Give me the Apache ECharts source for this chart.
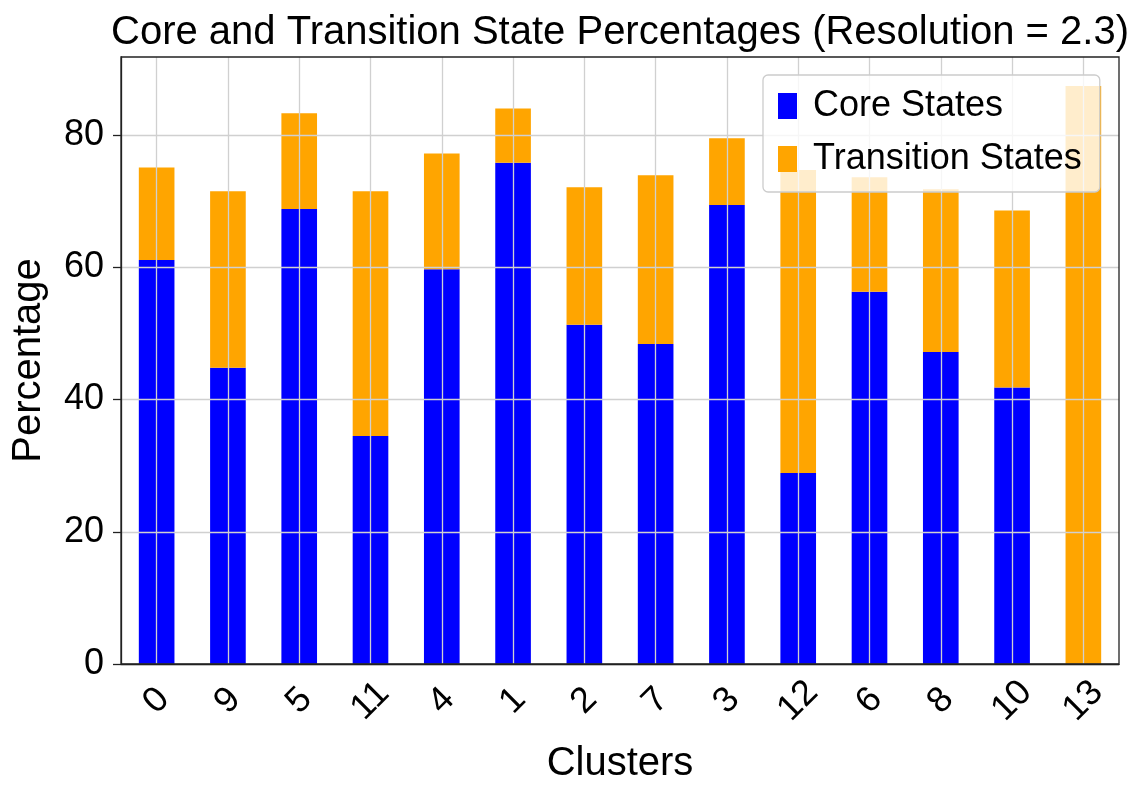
<!DOCTYPE html>
<html>
<head>
<meta charset="utf-8">
<script src="https://cdn.jsdelivr.net/npm/echarts@6/dist/echarts.min.js"></script>
<style>
html,body{margin:0;padding:0;background:#fff;}
#chart{width:1145px;height:798px;}
</style>
</head>
<body>
<div id="chart"></div>
<script>
const categories = ['0','9','5','11','4','1','2','7','3','12','6','8','10','13'];
const coreStates = [61.1, 44.8, 68.8, 34.5, 59.7, 75.8, 51.3, 48.4, 69.4, 28.9, 56.3, 47.2, 41.8, 0];
const transitionStates = [14.0, 26.7, 14.5, 37.0, 17.5, 8.2, 20.8, 25.5, 10.1, 45.8, 17.3, 24.6, 26.8, 87.4];
const yTicks = [0, 20, 40, 60, 80];

const FONT = "'Liberation Sans', Arial, sans-serif";
const chart = echarts.init(document.getElementById('chart'), null, {renderer: 'canvas'});
chart.setOption({
  animation: false,
  backgroundColor: '#ffffff',
  title: {
    text: 'Core and Transition State Percentages (Resolution = 2.3)',
    left: 615,
    textAlign: 'center',
    top: 8,
    textStyle: {fontFamily: FONT, fontSize: 40, fontWeight: 'normal', color: '#000'}
  },
  grid: {
    left: 121, right: 26, top: 57, bottom: 134,
    show: true, z: 4,
    backgroundColor: 'transparent',
    borderColor: '#222', borderWidth: 1.3
  },
  legend: {
    orient: 'vertical',
    left: 763, top: 75,
    z: 10,
    backgroundColor: 'rgba(255,255,255,0.8)',
    borderColor: '#cccccc', borderWidth: 1.3, borderRadius: 5,
    padding: [13, 18, 15, 15],
    itemWidth: 19, itemHeight: 26, itemGap: 17,
    icon: 'rect',
    textStyle: {fontFamily: FONT, fontSize: 36, color: '#000', lineHeight: 36, padding: [0,0,0,11]},
    data: ['Core States', 'Transition States']
  },
  xAxis: {
    type: 'category',
    data: categories,
    z: 3,
    name: 'Clusters',
    nameLocation: 'middle',
    nameGap: 80,
    nameTextStyle: {fontFamily: FONT, fontSize: 40, color: '#000'},
    axisLine: {lineStyle: {color: '#222', width: 1.3}},
    axisTick: {alignWithLabel: true, length: 8, lineStyle: {color: '#222', width: 1.3}},
    axisLabel: {
      rotate: 45, align: 'center', verticalAlign: 'middle', margin: 37,
      fontFamily: FONT, fontSize: 36, color: '#000', interval: 0
    },
    splitLine: {show: true, alignWithLabel: true, lineStyle: {color: '#d0d0d0', width: 1.3}}
  },
  yAxis: {
    type: 'value',
    min: 0, max: 91.8, interval: 20,
    z: 3,
    name: 'Percentage',
    nameLocation: 'middle',
    nameGap: 72,
    nameTextStyle: {fontFamily: FONT, fontSize: 40, color: '#000'},
    axisLine: {show: true, lineStyle: {color: '#222', width: 1.3}},
    axisTick: {show: true, length: 8, lineStyle: {color: '#222', width: 1.3}, customValues: yTicks},
    axisLabel: {fontFamily: FONT, fontSize: 36, color: '#000', margin: 17, customValues: yTicks},
    splitLine: {show: true, lineStyle: {color: '#d0d0d0', width: 1.3}}
  },
  series: [
    {name: 'Core States', type: 'bar', stack: 'total', barWidth: '50%', data: coreStates, itemStyle: {color: '#0000ff'}},
    {name: 'Transition States', type: 'bar', stack: 'total', barWidth: '50%', data: transitionStates, itemStyle: {color: '#ffa500'}}
  ]
});
</script>
</body>
</html>
